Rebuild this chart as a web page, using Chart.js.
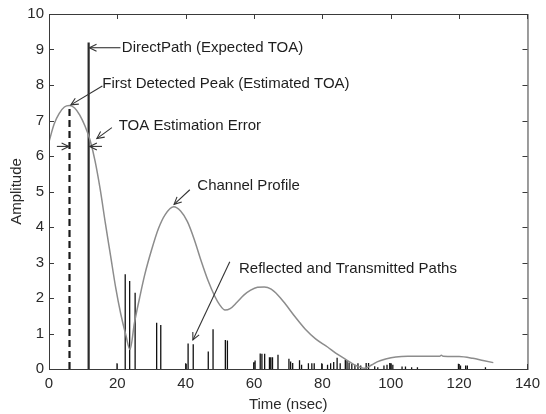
<!DOCTYPE html>
<html>
<head>
<meta charset="utf-8">
<script src="https://cdn.jsdelivr.net/npm/chart.js@4/dist/chart.umd.min.js"></script>
<style>
  html, body { margin: 0; padding: 0; background: #fff; }
  #wrap { width: 546px; height: 414px; }
</style>
</head>
<body>
<div id="wrap"><canvas id="toaChart" width="546" height="414"></canvas></div>
<script>
// ----- DATA -----
// channel profile (amplitude vs time in nsec)
const profileTime = [0, 1.5, 3, 4.5, 6, 7.5, 9, 10.5, 12, 13.5, 15, 16.5, 18, 19.5, 21, 22.5, 23.7,
    25, 26.5, 28, 30, 32, 34, 36.5, 38.5, 40.5, 42.5, 44.5, 46.5, 48.5, 50, 51.5, 53, 55, 57, 59,
    61, 63, 65, 67, 69, 72, 75, 78, 81.5, 84, 87, 89.5, 92.5, 94.5, 96, 98.5, 101.5, 105, 110,
    114.3, 114.8, 115.3, 120, 124, 127, 130];
const profileAmp = [6.4, 6.9, 7.2, 7.38, 7.42, 7.35, 7.15, 6.85, 6.45, 5.85, 5.05, 4.1, 3.2, 2.3, 1.55, 0.95, 0.55,
    1.3, 2.0, 2.65, 3.35, 3.95, 4.35, 4.57, 4.45, 4.15, 3.65, 3.05, 2.5, 2.05, 1.8, 1.66, 1.7, 1.88, 2.08, 2.22,
    2.3, 2.31, 2.25, 2.08, 1.85, 1.47, 1.12, 0.85, 0.62, 0.44, 0.26, 0.11, 0.02, 0.12, 0.2, 0.28, 0.34, 0.36, 0.36,
    0.36, 0.39, 0.36, 0.35, 0.3, 0.24, 0.18];

// reflected and transmitted paths
const pathTime = [19.9, 22.3, 23.6, 25.2, 31.5, 32.7, 40.0, 40.7, 42.2, 46.6, 48.0, 51.6, 52.2,
    59.9, 60.3, 61.8, 62.3, 63.1, 64.5, 64.9, 65.4, 67.0, 70.2, 70.7, 71.3, 73.3, 73.9, 75.9, 76.9,
    77.6, 79.8, 81.5, 82.4, 83.3, 84.3, 85.2, 86.7, 87.2, 87.8, 88.6, 89.5, 90.4, 91.2, 92.8, 93.5,
    95.3, 96.2, 98.0, 98.9, 99.7, 100.1, 100.6, 103.3, 104.3, 106.1, 107.8, 119.8, 120.4, 121.9,
    122.4, 127.7];
const pathAmp = [0.16, 2.67, 2.48, 2.15, 1.30, 1.24, 0.16, 0.72, 0.70, 0.49, 1.12, 0.82, 0.80,
    0.19, 0.24, 0.44, 0.43, 0.43, 0.33, 0.33, 0.33, 0.40, 0.29, 0.21, 0.17, 0.25, 0.12, 0.16, 0.16,
    0.16, 0.16, 0.12, 0.16, 0.20, 0.32, 0.16, 0.26, 0.24, 0.18, 0.14, 0.12, 0.16, 0.10, 0.17, 0.17,
    0.08, 0.05, 0.10, 0.12, 0.17, 0.16, 0.12, 0.07, 0.07, 0.05, 0.05, 0.15, 0.10, 0.10,
    0.10, 0.05];

// direct path and first detected peak
const directTime = [11.6];
const directAmp = [9.2];
const peakTime = [6.0];
const peakAmp = [7.42];

const xTicks = [0, 20, 40, 60, 80, 100, 120, 140];
const yTicks = [0, 1, 2, 3, 4, 5, 6, 7, 8, 9, 10];

// text labels with arrows, in data units: text anchor, arrow from -> to
const notes = [
    { text: 'DirectPath (Expected TOA)', tx: 21.3, ty: 9.05, from: [20.9, 9.05], to: [11.8, 9.05] },
    { text: 'First Detected Peak (Estimated TOA)', tx: 15.6, ty: 8.03, from: [15.6, 7.97], to: [6.4, 7.44] },
    { text: 'TOA Estimation Error', tx: 20.4, ty: 6.85, from: [18.4, 6.8], to: [14.0, 6.49] },
    { text: 'Channel Profile', tx: 43.4, ty: 5.17, from: [41.2, 5.05], to: [36.6, 4.64] },
    { text: 'Reflected and Transmitted Paths', tx: 55.6, ty: 2.83, from: [52.9, 3.02], to: [42.1, 0.82] }
];
// the two small horizontal arrows marking the error
const errorArrows = [
    { from: [2.3, 6.27], to: [5.8, 6.27] },
    { from: [15.5, 6.27], to: [11.9, 6.27] }
];

// stems -> line segments split by gaps
function stems(times, amps) {
    const pts = [];
    times.forEach((t, i) => {
        pts.push({ x: t, y: 0 }, { x: t, y: amps[i] }, { x: t, y: null });
    });
    return pts;
}

const profilePoints = profileTime.map((t, i) => ({ x: t, y: profileAmp[i] }));

// ----- BOX, INNER TICKS, ANNOTATIONS -----
function arrowHead(ctx, x0, y0, x1, y1) {
    const ang = Math.atan2(y1 - y0, x1 - x0);
    const len = 8, spread = 0.45;
    ctx.beginPath();
    ctx.moveTo(x1 - len * Math.cos(ang - spread), y1 - len * Math.sin(ang - spread));
    ctx.lineTo(x1, y1);
    ctx.lineTo(x1 - len * Math.cos(ang + spread), y1 - len * Math.sin(ang + spread));
    ctx.stroke();
}

const boxPlugin = {
    id: 'boxPlugin',
    afterDatasetsDraw(chart) {
        const { ctx, chartArea: a, scales: { x, y } } = chart;
        ctx.save();
        ctx.strokeStyle = '#3a3a3a';
        ctx.lineWidth = 1;
        ctx.strokeRect(a.left + 0.5, a.top + 0.5, a.right - a.left, a.bottom - a.top);

        const tl = 5;
        ctx.beginPath();
        xTicks.forEach(v => {
            const px = Math.round(x.getPixelForValue(v)) + 0.5;
            ctx.moveTo(px, a.bottom); ctx.lineTo(px, a.bottom - tl);
            ctx.moveTo(px, a.top); ctx.lineTo(px, a.top + tl);
        });
        yTicks.forEach(v => {
            const py = Math.round(y.getPixelForValue(v)) + 0.5;
            ctx.moveTo(a.left, py); ctx.lineTo(a.left + tl, py);
            ctx.moveTo(a.right, py); ctx.lineTo(a.right - tl, py);
        });
        ctx.stroke();

        // labels and arrows
        ctx.strokeStyle = '#333';
        ctx.fillStyle = '#1e1e1e';
        ctx.lineWidth = 1.1;
        ctx.font = '15px "Liberation Sans", Arial, sans-serif';
        ctx.textAlign = 'left';
        ctx.textBaseline = 'middle';
        notes.forEach(n => {
            ctx.fillText(n.text, x.getPixelForValue(n.tx), y.getPixelForValue(n.ty));
            const x0 = x.getPixelForValue(n.from[0]), y0 = y.getPixelForValue(n.from[1]);
            const x1 = x.getPixelForValue(n.to[0]), y1 = y.getPixelForValue(n.to[1]);
            ctx.beginPath();
            ctx.moveTo(x0, y0); ctx.lineTo(x1, y1);
            ctx.stroke();
            arrowHead(ctx, x0, y0, x1, y1);
        });
        errorArrows.forEach(e => {
            const x0 = x.getPixelForValue(e.from[0]), y0 = y.getPixelForValue(e.from[1]);
            const x1 = x.getPixelForValue(e.to[0]), y1 = y.getPixelForValue(e.to[1]);
            ctx.beginPath();
            ctx.moveTo(x0, y0); ctx.lineTo(x1, y1);
            ctx.stroke();
            arrowHead(ctx, x0, y0, x1, y1);
        });
        ctx.restore();
    }
};

// ----- CHART -----
const ctx = document.getElementById('toaChart').getContext('2d');
new Chart(ctx, {
    type: 'scatter',
    data: {
        datasets: [
            {
                label: 'Channel Profile',
                data: profilePoints,
                showLine: true,
                borderColor: '#8c8c8c',
                borderWidth: 1.5,
                pointRadius: 0,
                cubicInterpolationMode: 'monotone'
            },
            {
                label: 'Reflected and Transmitted Paths',
                data: stems(pathTime, pathAmp),
                showLine: true,
                borderColor: '#111',
                borderWidth: 1.3,
                pointRadius: 0,
                spanGaps: false
            },
            {
                label: 'Direct Path',
                data: stems(directTime, directAmp),
                showLine: true,
                borderColor: '#2a2a2a',
                borderWidth: 2.2,
                pointRadius: 0
            },
            {
                label: 'First Detected Peak',
                data: stems(peakTime, peakAmp),
                showLine: true,
                borderColor: '#1a1a1a',
                borderWidth: 2.2,
                borderDash: [7, 4],
                pointRadius: 0
            }
        ]
    },
    options: {
        responsive: false,
        animation: false,
        layout: { padding: { left: 0, top: 13, right: 10, bottom: 0 } },
        plugins: { legend: { display: false }, tooltip: { enabled: false } },
        scales: {
            x: {
                type: 'linear',
                min: 0,
                max: 140,
                afterFit: s => { s.height = 45; },
                afterBuildTicks: s => { s.ticks = xTicks.map(v => ({ value: v })); },
                grid: { display: false, drawTicks: false },
                border: { display: false },
                ticks: { padding: 6, color: '#2a2a2a', font: { family: 'Liberation Sans', size: 15 } },
                title: {
                    display: true,
                    text: 'Time (nsec)',
                    color: '#2a2a2a',
                    font: { family: 'Liberation Sans', size: 15 },
                    padding: { top: 0, bottom: 0 }
                }
            },
            y: {
                type: 'linear',
                min: 0,
                max: 10,
                afterFit: s => { s.width = 49; },
                afterBuildTicks: s => { s.ticks = yTicks.map(v => ({ value: v })); },
                grid: { display: false, drawTicks: false },
                border: { display: false },
                ticks: { padding: 5, color: '#2a2a2a', font: { family: 'Liberation Sans', size: 15 } },
                title: {
                    display: true,
                    text: 'Amplitude',
                    color: '#2a2a2a',
                    font: { family: 'Liberation Sans', size: 15 },
                    padding: { top: 8, bottom: 0 }
                }
            }
        }
    },
    plugins: [boxPlugin]
});
</script>
</body>
</html>
